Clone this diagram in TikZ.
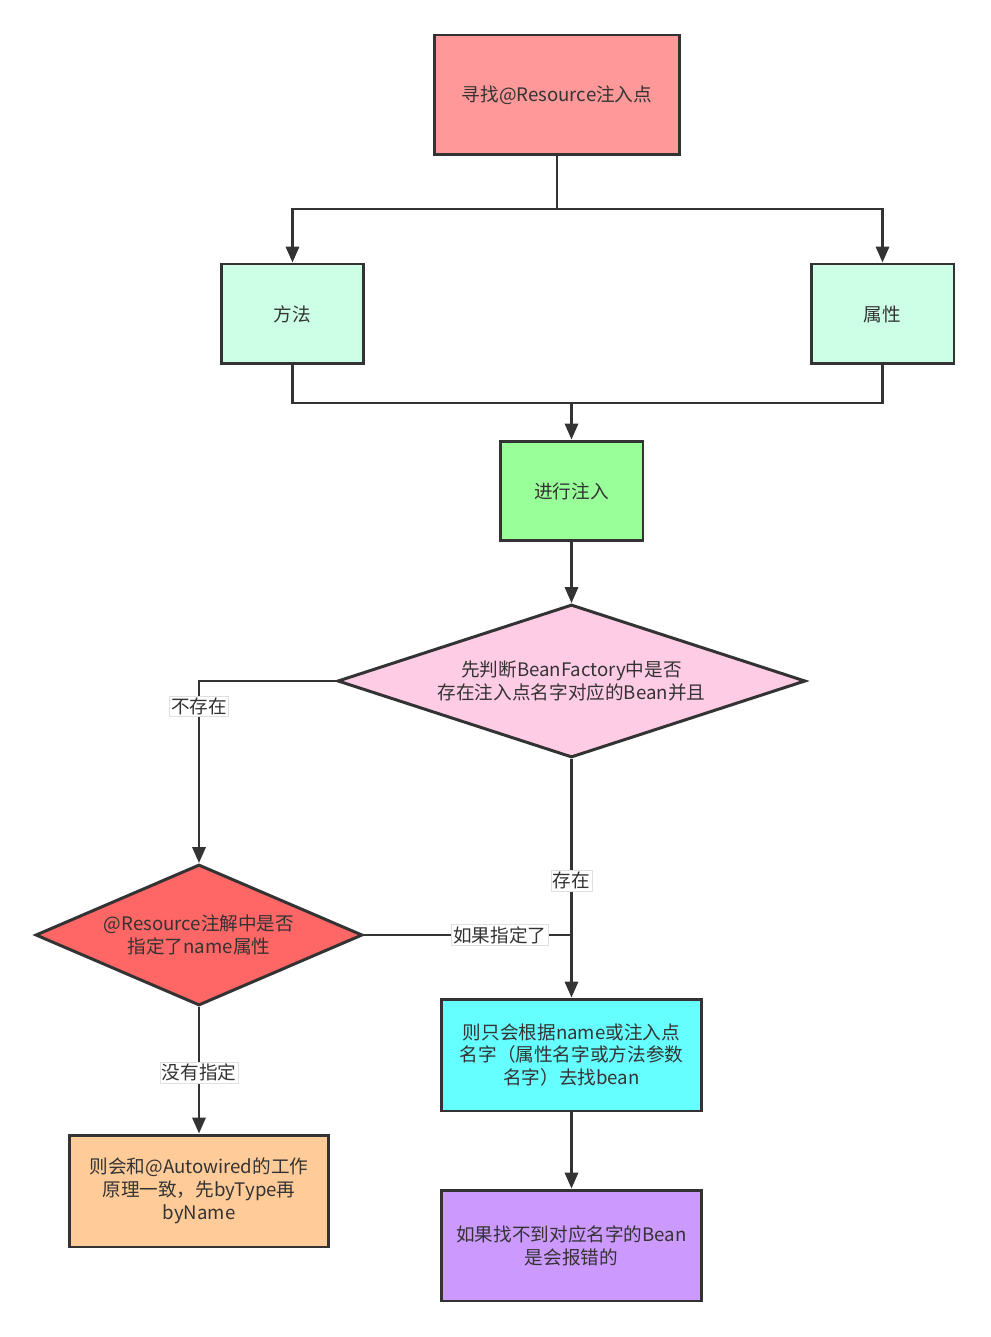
\documentclass[tikz,border=0pt]{standalone}
\usepackage{fontspec}
\setmainfont{Noto Sans CJK SC}
\usetikzlibrary{positioning}
\usetikzlibrary{arrows.meta}
\usetikzlibrary{shapes.geometric}

\definecolor{linegray}{HTML}{333333}
\definecolor{textgray}{HTML}{333333}
\definecolor{findred}{HTML}{FF9999}
\definecolor{mintgreen}{HTML}{CCFFE6}
\definecolor{injectgreen}{HTML}{99FF99}
\definecolor{checkpink}{HTML}{FFCCE6}
\definecolor{namedred}{HTML}{FF6666}
\definecolor{bynamecyan}{HTML}{66FFFF}
\definecolor{bytypeorange}{HTML}{FFCC99}
\definecolor{errorpurple}{HTML}{CC99FF}

\begin{document}
\begin{tikzpicture}[x=0.02cm,y=-0.02cm]
\tikzset{process/.style={rectangle, draw=linegray, line width=1.7pt, text=textgray, align=center, inner sep=0pt, minimum width=2.86cm, minimum height=2cm, font=\fontsize{10.6pt}{13pt}\selectfont}}
\tikzset{decision/.style={diamond, draw=linegray, line width=1.7pt, text=textgray, align=center, inner sep=0pt, font=\fontsize{10.6pt}{13pt}\selectfont}}
\tikzset{flow/.style={draw=linegray, line width=1.4pt}}
\tikzset{arrow/.style={flow, -{Triangle[length=9pt,width=7.5pt]}}}
\tikzset{edgetext/.style={fill=white, draw=gray!25, line width=0.4pt, inner sep=1pt, text=textgray, font=\fontsize{10.6pt}{13pt}\selectfont}}
\useasboundingbox (0,0) rectangle (990,1337);

\node[process, fill=findred, minimum width=4.92cm, minimum height=2.4cm] (find) at (557,95) {寻找@Resource注入点};
\node[process, fill=mintgreen] (method) at (292.5,314) {方法};
\node[process, fill=mintgreen] (field) at (882.5,314) {属性};
\node[process, fill=injectgreen] (inject) at (571.5,491) {进行注入};
\node[decision, fill=checkpink, aspect=3.06, minimum width=9.36cm, minimum height=3.06cm] (exists) at (571.5,681) {先判断BeanFactory中是否\\存在注入点名字对应的Bean并且};
\node[decision, fill=namedred, aspect=2.32, minimum width=6.54cm, minimum height=2.82cm] (named) at (199,935) {@Resource注解中是否\\指定了name属性};
\node[process, fill=bynamecyan, minimum width=5.22cm, minimum height=2.24cm] (byname) at (571.5,1055) {则只会根据name或注入点\\名字（属性名字或方法参数\\名字）去找bean};
\node[process, fill=bytypeorange, minimum width=5.2cm, minimum height=2.24cm] (bytype) at (199,1191) {则会和@Autowired的工作\\原理一致，先byType再\\byName};
\node[process, fill=errorpurple, minimum width=5.22cm, minimum height=2.22cm] (error) at (571.5,1245.5) {如果找不到对应名字的Bean\\是会报错的};

% split and merge
\coordinate (split) at (557,209);
\coordinate (merge) at (571.5,403);
\coordinate (join) at (571.5,935);
\draw[flow] (find) -- (split);
\draw[arrow] (split) -| (method);
\draw[arrow] (split) -| (field);
\draw[flow] (method) |- (merge) -| (field);
\draw[arrow] (merge) -- (inject);
\draw[arrow] (inject) -- (exists);

% decisions
\draw[arrow] (exists.west) -| node[edgetext, pos=0.57] {不存在} (named.north);
\draw[arrow] (exists.south) -- node[edgetext, pos=0.51] {存在} (byname.north);
\draw[flow] (named.east) -- node[edgetext, pos=0.654] {如果指定了} (join);
\draw[arrow] (named.south) -- node[edgetext, pos=0.52] {没有指定} (bytype.north);
\draw[arrow] (byname) -- (error);
\end{tikzpicture}
\end{document}
